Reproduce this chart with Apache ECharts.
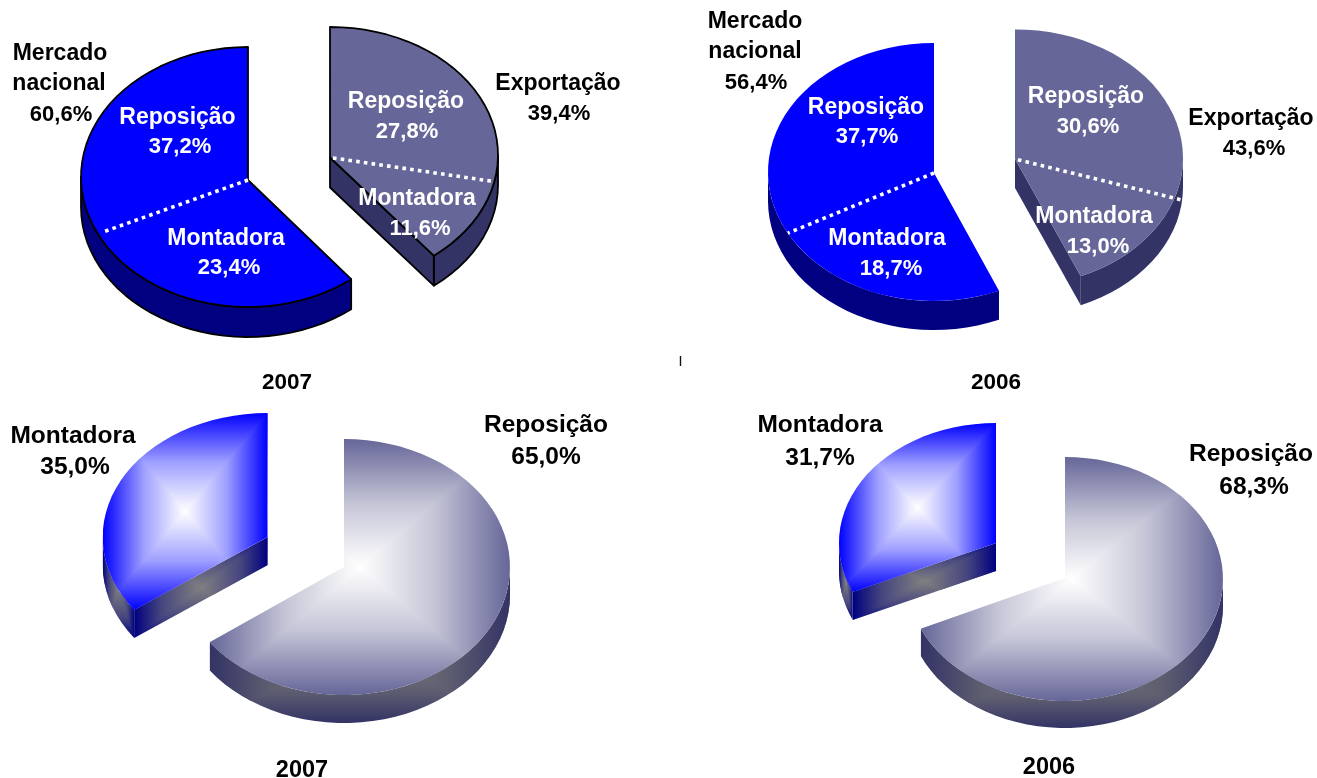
<!DOCTYPE html>
<html><head><meta charset="utf-8">
<style>html,body{margin:0;padding:0;background:#fff;overflow:hidden}#c{width:1317px;height:778px}</style>
<script src="https://cdn.jsdelivr.net/npm/echarts@6/dist/echarts.min.js"></script>
</head><body><div id="c"></div>
<script>
// ---- data ----
const subNames = ["Reposição", "Montadora"];
const export2007 = [27.8, 11.6];
const nacional2007 = [37.2, 23.4];
const export2006 = [30.6, 13.0];
const nacional2006 = [37.7, 18.7];
const bottom2007 = [65.0, 35.0];
const bottom2006 = [68.3, 31.7];
const exportName = ["Exportação"];
const nacionalName = ["Mercado", "nacional"];
const yearLabels = ["2007", "2006", "2007", "2006"];

// ---- styles & layout ----
const FONT = '"Liberation Sans", Arial, sans-serif';
const BLUE = {top:'#0000FF', wall:'#000080', wallMid:'#45457f'};
const GRAY = {top:'#666699', wall:'#333366', wallMid:'#5d5d70', };
const sum = a => a.reduce((p, c) => p + c, 0);
const pct = v => v.toFixed(1).replace('.', ',') + '%';

function T(lines, x, y, color){ return lines.map((s, i) => ({s, x:x[i], y:y[i], color})); }

const pies = [
 { gradient:false, outline:true, fs:23, fsPct:22, slices:[
   { share:sum(export2007), color:GRAY, g:{cx:330,cy:155,rx:168,ry:128,apexDy:2.5,depth:30},
     divider:{deg:102,reach:1.0,from:3},
     text:[...T([subNames[0],pct(export2007[0])],[406,407],[102,132],'#fff'),
           ...T([subNames[1],pct(export2007[1])],[417,420],[199,229],'#fff'),
           ...T([exportName[0],pct(sum(export2007))],[558,559],[84,114],'#000')]},
   { share:sum(nacional2007), color:BLUE, g:{cx:248,cy:177,rx:167,ry:130,apexDy:3,depth:30},
     divider:{deg:244,reach:.963,from:0},
     text:[...T([subNames[0],pct(nacional2007[0])],[177.5,180],[118,147],'#fff'),
           ...T([subNames[1],pct(nacional2007[1])],[226,229],[239,268],'#fff'),
           ...T([nacionalName[0],nacionalName[1],pct(sum(nacional2007))],[60,59,61],[54,84,115],'#000')]}
 ]},
 { gradient:false, outline:false, fs:23, fsPct:22, slices:[
   { share:sum(export2006), color:GRAY, g:{cx:1015,cy:158,rx:168,ry:128.6,apexDy:1,depth:29},
     divider:{deg:108.2,reach:1.046,from:3},
     text:[...T([subNames[0],pct(export2006[0])],[1086,1088],[97,127],'#fff'),
           ...T([subNames[1],pct(export2006[1])],[1094,1098],[217,247],'#fff'),
           ...T([exportName[0],pct(sum(export2006))],[1251,1254],[119,149],'#000')]},
   { share:sum(nacional2006), color:BLUE, g:{cx:934,cy:172,rx:166,ry:129,apexDy:1,depth:29},
     divider:{deg:241.7,reach:1.0,from:0},
     text:[...T([subNames[0],pct(nacional2006[0])],[866,867],[108,137],'#fff'),
           ...T([subNames[1],pct(nacional2006[1])],[887,891],[239,269],'#fff'),
           ...T([nacionalName[0],nacionalName[1],pct(sum(nacional2006))],[755,755,756],[22,52,83],'#000')]}
 ]},
 { gradient:true, outline:false, fs:24.5, fsPct:24.5, slices:[
   { share:bottom2007[0], color:GRAY, g:{cx:344,cy:567,rx:166,ry:128,apexDy:0,depth:28},
     text:T([subNames[0],pct(bottom2007[0])],[546,546],[425,457],'#000')},
   { share:bottom2007[1], color:BLUE, g:{cx:267.7,cy:537,rx:165,ry:124,apexDy:0,depth:28},
     text:T([subNames[1],pct(bottom2007[1])],[73,75],[436,467],'#000')}
 ]},
 { gradient:true, outline:false, fs:24.5, fsPct:24.5, slices:[
   { share:bottom2006[0], color:GRAY, g:{cx:1065,cy:579,rx:158,ry:122,apexDy:-1,depth:27},
     text:T([subNames[0],pct(bottom2006[0])],[1251,1254],[454,487],'#000')},
   { share:bottom2006[1], color:BLUE, g:{cx:996,cy:543,rx:157,ry:120,apexDy:0,depth:28},
     text:T([subNames[1],pct(bottom2006[1])],[820,820],[425,458],'#000')}
 ]}
];
const titlePos = [[287,380,22.5],[996,380,22.5],[302,768,23.5],[1049,765,23.5]];

// ---- geometry helpers ----
const rad = d => d * Math.PI / 180;
function pt(g, deg, dz, k){ k = k == null ? 1 : k;
  return [g.cx + k*g.rx*Math.sin(rad(deg)), g.cy - k*g.ry*Math.cos(rad(deg)) + (dz||0)]; }
function arc(g, a, b, dz){ const n = Math.max(2, Math.ceil(Math.abs(b-a)/4)), o = [];
  for (let i=0;i<=n;i++) o.push(pt(g, a+(b-a)*i/n, dz)); return o; }
function bbox(p){ const xs=p.map(q=>q[0]), ys=p.map(q=>q[1]);
  return [Math.min(...xs),Math.max(...xs),Math.min(...ys),Math.max(...ys)]; }

function pathGradient(points, stops){
  const [x0,x1,y0,y1] = bbox(points), mx=(x0+x1)/2, my=(y0+y1)/2;
  const mirrored = stops.map(s=>({offset:s.offset/2,color:s.color}))
    .concat(stops.slice(0,-1).reverse().map(s=>({offset:1-s.offset/2,color:s.color})));
  const G=(a,b,c,d)=>new echarts.graphic.LinearGradient(a,b,c,d,mirrored,true);
  return {type:'group',
    clipPath:{type:'polygon',shape:{points}},
    children:[
      {type:'rect',shape:{x:x0,y:y0,width:x1-x0,height:y1-y0},style:{fill:G(0,y0,0,y1)}},
      {type:'polygon',shape:{points:[[x0,y0],[x0,y1],[mx,my]]},style:{fill:G(x0,0,x1,0)}},
      {type:'polygon',shape:{points:[[x1,y0],[x1,y1],[mx,my]]},style:{fill:G(x0,0,x1,0)}}
    ]};
}

function renderSlice(pie, params, api){
  const idx = params.dataIndex, s = pie.slices[idx], g = s.g;
  const total = sum(pie.slices.map(x=>x.share));
  let start = 0; for (let i=0;i<idx;i++) start += pie.slices[i].share;
  const a = start/total*360, b = (start+api.value(0))/total*360;
  const apex = [g.cx, g.cy + g.apexDy];
  const kids = [];
  const wallStops=[{offset:0,color:s.color.wall},{offset:.4,color:s.color.wallMid},{offset:1,color:'#808080'}];
  const faceStops=[{offset:0,color:s.color.top},{offset:.5,color:s.color===BLUE?'#9f9fff':'#c4c4d6'},{offset:1,color:'#ffffff'}];
  const paint = (points, edge, stops) => {
    if (pie.gradient) kids.push(pathGradient(points, stops));
    else kids.push({type:'polygon',shape:{points},style:{fill:edge,
      stroke:pie.outline?'#000':null,lineWidth:1.8,lineJoin:'round'}});
  };
  const wa = Math.max(a,90), wb = Math.min(b,270);
  if (wb > wa) paint([...arc(g,wa,wb,0),...arc(g,wb,wa,g.depth)], s.color.wall, wallStops);
  const cut = deg => { const e=pt(g,deg,0);
    paint([apex,e,[e[0],e[1]+g.depth],[apex[0],apex[1]+g.depth]], s.color.wall, wallStops); };
  if (Math.sin(rad(b)) > 1e-6) cut(b);
  if (-Math.sin(rad(a)) > 1e-6) cut(a);
  paint([apex,...arc(g,a,b,0)], s.color.top, faceStops);
  if (s.divider){ const e=pt(g,s.divider.deg,0,s.divider.reach);
    const d=s.divider.from, L=Math.hypot(e[0]-apex[0],e[1]-apex[1]);
    kids.push({type:'line',shape:{x1:apex[0]+(e[0]-apex[0])*d/L,y1:apex[1]+(e[1]-apex[1])*d/L,x2:e[0],y2:e[1]},
      style:{stroke:'#fff',lineWidth:3.6,lineDash:[3.6,4.2]}});
  }
  s.text.forEach(t=>{
    const isPct=/%$/.test(t.s);
    kids.push({type:'text',style:{text:t.s,x:t.x,y:t.y,align:'center',verticalAlign:'middle',
      fill:t.color,font:'bold '+(isPct?pie.fsPct:pie.fs)+'px '+FONT}});
  });
  return {type:'group',children:kids};
}

const chart = echarts.init(document.getElementById('c'),null,{renderer:'canvas'});
chart.setOption({
  backgroundColor:'#fff',
  animation:false,
  tooltip:{show:false},
  title:yearLabels.map((t,i)=>({text:t,left:titlePos[i][0],top:titlePos[i][1]-9,padding:0,textAlign:'center',
    textStyle:{fontFamily:FONT,fontWeight:'bold',fontSize:titlePos[i][2],color:'#000'}})),
  graphic:[{type:'line',silent:true,shape:{x1:680.5,y1:356,x2:680.5,y2:366},style:{stroke:'#111',lineWidth:1.4}}],
  series:pies.map(p=>({
    type:'custom',coordinateSystem:'none',silent:true,
    data:p.slices.map(s=>s.share),
    renderItem:(params,api)=>renderSlice(p,params,api)
  }))
});
</script></body></html>
